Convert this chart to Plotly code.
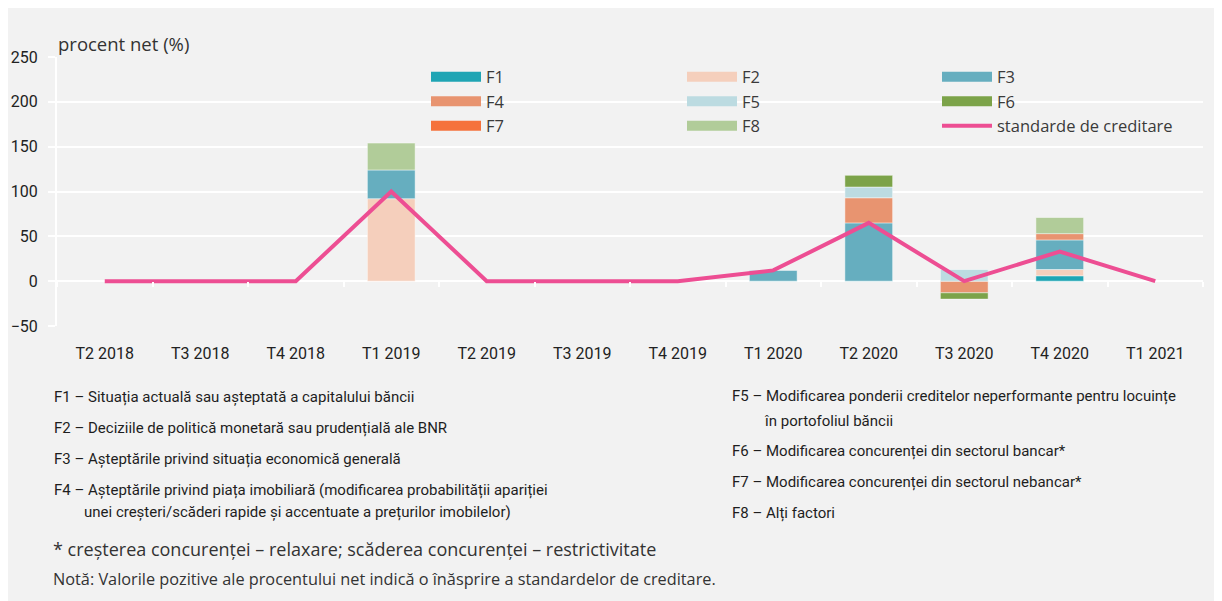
import plotly.graph_objects as go

categories = ["T2 2018", "T3 2018", "T4 2018", "T1 2019", "T2 2019", "T3 2019",
              "T4 2019", "T1 2020", "T2 2020", "T3 2020", "T4 2020", "T1 2021"]
F1 = [0, 0, 0, 0, 0, 0, 0, 0, 0, 0, 6, 0]
F2 = [0, 0, 0, 92, 0, 0, 0, 0, 0, 0, 7, 0]
F3 = [0, 0, 0, 32, 0, 0, 0, 12, 65, 0, 33, 0]
F4 = [0, 0, 0, 0, 0, 0, 0, 0, 28, -13, 7, 0]
F5 = [0, 0, 0, 0, 0, 0, 0, 0, 12, 13, 0, 0]
F6 = [0, 0, 0, 0, 0, 0, 0, 0, 13, -7, 0, 0]
F7 = [0, 0, 0, 0, 0, 0, 0, 0, 0, 0, 0, 0]
F8 = [0, 0, 0, 30, 0, 0, 0, 0, 0, 0, 18, 0]
standarde = [0, 0, 0, 100, 0, 0, 0, 12, 65, 0, 33, 0]
y_ticks = [-50, 0, 50, 100, 150, 200, 250]

series = [("F1", F1, "#1fa5b4"), ("F2", F2, "#f5cfbc"), ("F3", F3, "#66aebf"),
          ("F4", F4, "#e89470"), ("F5", F5, "#bcdbe1"), ("F6", F6, "#7ca349"),
          ("F7", F7, "#f5723c"), ("F8", F8, "#b1cc99")]
line_color = "#ed4e93"
legend_of = {"F1": "legend", "F4": "legend", "F7": "legend",
             "F2": "legend2", "F5": "legend2", "F8": "legend2",
             "F3": "legend3", "F6": "legend3"}

OFF = 8  # page body margin
W, H = 1222, 601
ML, MR, MT, MB = 49, 27, 49, 283
PW, PH = W - ML - MR, H - MT - MB

def px_x(px):
    return (px - OFF - ML) / PW

def px_y(py):
    return (H - MB - (py - OFF)) / PH

NARROW = "Roboto, sans-serif"
LIGHT = "Open Sans, sans-serif"

fig = go.Figure()
for name, vals, col in series:
    fig.add_trace(go.Bar(
        x=categories, y=[v if v != 0 else None for v in vals], name=name,
        marker=dict(color=col, line=dict(color="rgba(255,255,255,0.45)", width=1)),
        showlegend=False))

fig.add_trace(go.Scatter(x=categories, y=standarde, mode="lines",
                         line=dict(color=line_color, width=4), showlegend=False))

# legend entries
for name, vals, col in series:
    fig.add_trace(go.Scatter(x=[None], y=[None], mode="lines", name=name,
                             line=dict(color=col, width=10), legend=legend_of[name]))
fig.add_trace(go.Scatter(x=[None], y=[None], mode="lines", name="standarde de creditare",
                         line=dict(color=line_color, width=4), legend="legend3"))

# helper axis for tick marks on zero line
fig.add_trace(go.Scatter(x=categories, y=standarde, xaxis="x2", mode="lines",
                         line=dict(color="rgba(0,0,0,0)", width=0), hoverinfo="skip",
                         showlegend=False))

leg_common = dict(orientation="v", bgcolor="rgba(0,0,0,0)", itemwidth=50,
                  font=dict(family=LIGHT, size=16.5, color="#3a3a3a"),
                  yanchor="top", xanchor="left", tracegroupgap=0, traceorder="normal")
y_leg = px_y(59.5)
fig.update_layout(
    legend=dict(x=px_x(426), y=y_leg, **leg_common),
    legend2=dict(x=px_x(682), y=y_leg, **leg_common),
    legend3=dict(x=px_x(937), y=y_leg, **leg_common),
)

fig.update_layout(
    width=W, height=H,
    margin=dict(l=ML, r=MR, t=MT, b=MB, autoexpand=False),
    paper_bgcolor="#f2f2f2", plot_bgcolor="#f2f2f2",
    barmode="relative", bargap=0.5,
    xaxis=dict(type="category", categoryarray=categories, range=[-0.5, 11.5],
               showgrid=False, zeroline=False, showline=False, ticks="",
               ticklabelstandoff=16, automargin=False,
               tickfont=dict(family=NARROW, size=16, color="#222")),
    xaxis2=dict(type="category", categoryarray=categories, range=[-0.5, 11.5],
                overlaying="x", anchor="free", position=50 / 300,
                showgrid=False, zeroline=False, showline=False,
                ticks="outside", tickson="boundaries", ticklen=5, tickwidth=2,
                tickcolor="white", showticklabels=False, automargin=False),
    yaxis=dict(range=[-50, 250], tickvals=y_ticks, showgrid=True, gridcolor="white",
               gridwidth=2, zeroline=False, showline=True, linecolor="white", linewidth=2,
               ticks="outside", ticklen=7, tickcolor="white", tickwidth=2,
               ticklabelstandoff=7, automargin=False,
               tickfont=dict(family=NARROW, size=16, color="#222")),
    showlegend=True,
)

def note(text, px, py, font=NARROW, size=15, color="#1e1e1e"):
    fig.add_annotation(text=text, x=px_x(px), y=px_y(py), xref="paper", yref="paper",
                       xanchor="left", yanchor="middle", showarrow=False,
                       font=dict(family=font, size=size, color=color))

note("procent net (%)", 56, 44, font=LIGHT, size=18.5, color="#333")
note("F1 – Situația actuală sau așteptată a capitalului băncii", 52, 397)
note("F2 – Deciziile de politică monetară sau prudențială ale BNR", 52, 428)
note("F3 – Așteptările privind situația economică generală", 52, 459)
note("F4 – Așteptările privind piața imobiliară (modificarea probabilității apariției", 52, 490)
note("unei creșteri/scăderi rapide și accentuate a prețurilor imobilelor)", 82, 512)
note("* creșterea concurenței – relaxare; scăderea concurenței – restrictivitate", 51, 549,
     font=LIGHT, size=18, color="#333")
note("Notă: Valorile pozitive ale procentului net indică o înăsprire a standardelor de creditare.",
     51, 579, font=LIGHT, size=16.3, color="#333")
note("F5 – Modificarea ponderii creditelor neperformante pentru locuințe", 730, 396)
note("în portofoliul băncii", 762, 421)
note("F6 – Modificarea concurenței din sectorul bancar*", 730, 451)
note("F7 – Modificarea concurenței din sectorul nebancar*", 730, 482)
note("F8 – Alți factori", 730, 513)

fig.write_html("out.html")
